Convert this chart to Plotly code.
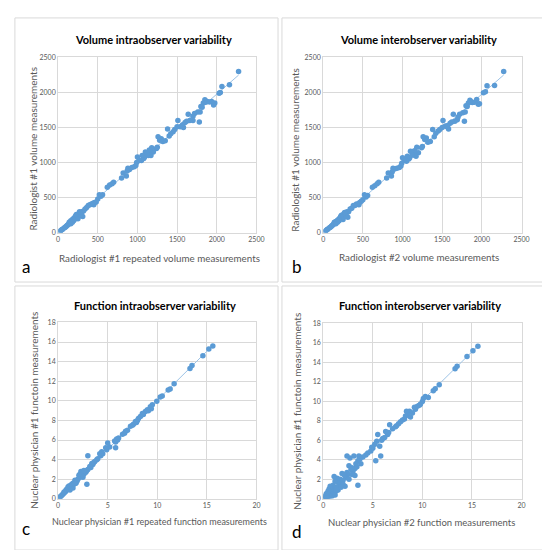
import numpy as np
import plotly.graph_objects as go

# volume, radiologist #1 repeated vs radiologist #1
vol_intra_x = [2275, 2160, 2065, 2045, 2030, 1975, 1960, 1935, 1910, 1880, 1860, 1850, 1830, 1815, 1800,
               1790, 1780, 1760, 1720, 1700, 1700, 1660, 1640, 1620, 1600, 1580, 1570, 1560, 1540, 1510,
               1500, 1470, 1450, 1420, 1400, 1380, 1350, 1320, 1300, 1280, 1260, 1250, 1240, 1200, 1180,
               1170, 1160, 1150, 1140, 1120, 1100, 1090, 1080, 1060, 1050, 1020, 1000, 990, 980, 960,
               930, 900, 880, 870, 860, 820, 800, 700, 680, 650, 620, 560, 540, 520, 500,
               480, 460, 450, 440, 420, 400, 380, 360, 340, 320, 300, 310, 290, 280, 270,
               260, 250, 240, 230, 220, 210, 200, 190, 180, 170, 160, 150, 140, 130, 120,
               110, 100, 90, 80, 60, 50, 40, 30, 250, 230, 200, 180, 160, 290, 270]
vol_intra_y = [2300, 2110, 2085, 2000, 1990, 1850, 1820, 1870, 1865, 1870, 1860, 1895, 1850, 1790, 1800,
               1720, 1580, 1720, 1700, 1660, 1600, 1600, 1690, 1590, 1570, 1500, 1540, 1520, 1510, 1600,
               1510, 1470, 1440, 1410, 1380, 1480, 1310, 1300, 1340, 1320, 1370, 1220, 1200, 1150, 1210,
               1100, 1140, 1180, 1100, 1120, 1150, 1080, 1060, 1100, 1030, 1030, 1080, 1000, 960, 940,
               930, 900, 920, 880, 810, 850, 780, 720, 700, 680, 650, 540, 520, 540, 480,
               440, 430, 400, 420, 410, 400, 390, 360, 340, 310, 300, 230, 280, 260, 240,
               270, 230, 250, 210, 240, 200, 210, 170, 190, 160, 170, 140, 150, 120, 110,
               100, 90, 80, 70, 55, 45, 35, 25, 200, 260, 180, 150, 130, 250, 300]

# volume, radiologist #2 vs radiologist #1
vol_inter_x = [2275, 2160, 2065, 2045, 2020, 1970, 1955, 1935, 1905, 1880, 1860, 1850, 1830, 1815, 1800,
               1790, 1780, 1760, 1720, 1700, 1690, 1660, 1640, 1620, 1600, 1580, 1570, 1560, 1540, 1510,
               1500, 1470, 1450, 1420, 1400, 1380, 1350, 1320, 1300, 1280, 1260, 1250, 1240, 1200, 1180,
               1170, 1160, 1150, 1140, 1120, 1100, 1090, 1080, 1060, 1050, 1020, 1000, 990, 980, 960,
               930, 900, 880, 870, 860, 820, 800, 700, 680, 650, 620, 560, 540, 520, 500,
               480, 460, 450, 440, 420, 400, 380, 360, 340, 320, 300, 310, 290, 280, 270,
               260, 250, 240, 230, 220, 210, 200, 190, 180, 170, 160, 150, 140, 130, 120,
               110, 100, 90, 80, 60, 50, 40, 30, 250, 230, 200, 180, 160, 290, 270]
vol_inter_y = [2300, 2100, 2095, 2010, 1995, 1840, 1830, 1900, 1860, 1855, 1870, 1890, 1850, 1800, 1810,
               1720, 1590, 1710, 1690, 1650, 1610, 1590, 1690, 1580, 1560, 1480, 1530, 1510, 1520, 1600,
               1500, 1470, 1450, 1420, 1370, 1470, 1300, 1290, 1350, 1330, 1370, 1230, 1210, 1140, 1220,
               1090, 1130, 1170, 1110, 1110, 1160, 1070, 1050, 1090, 1020, 1040, 1070, 990, 950, 930,
               920, 910, 920, 870, 810, 850, 780, 720, 700, 670, 650, 530, 510, 540, 470,
               450, 430, 400, 410, 410, 390, 390, 350, 340, 300, 300, 220, 280, 250, 240,
               270, 220, 240, 210, 230, 200, 200, 170, 180, 160, 160, 140, 150, 120, 110,
               100, 90, 80, 70, 55, 45, 35, 25, 190, 250, 170, 150, 130, 240, 290]

# function, nuclear physician #1 repeated vs #1
fun_intra_x = [15.6, 15.2, 14.6, 13.5, 13.3, 11.7, 11.3, 11.1, 10.5, 10.3, 9.95, 9.5, 9.4, 9.3, 9.1,
               9.0, 8.8, 8.6, 8.5, 8.3, 8.1, 8.0, 7.9, 7.8, 7.6, 7.5, 7.3, 7.0, 6.8, 6.7,
               6.5, 6.1, 6.0, 5.9, 5.8, 5.7, 5.8, 5.2, 5.0, 4.9, 4.8, 4.5, 4.4, 4.3, 4.2,
               4.0, 3.9, 3.7, 3.6, 3.5, 3.4, 3.3, 3.2, 3.0, 3.0, 2.9, 2.9, 2.8, 2.7, 2.6,
               2.5, 2.4, 2.3, 2.2, 2.2, 2.1, 2.0, 1.9, 1.8, 1.7, 1.6, 1.5, 1.4, 1.3, 1.2,
               1.1, 1.0, 0.9, 0.8, 0.7, 0.6, 0.5, 0.4, 0.3, 0.2, 0.15, 1.5, 1.2, 2.5, 1.0,
               0.8, 0.6, 1.4, 1.7, 2.6]
fun_intra_y = [15.6, 15.3, 14.6, 13.6, 13.3, 11.75, 11.2, 11.1, 10.5, 10.4, 9.95, 9.6, 9.2, 9.4, 9.0,
               9.1, 8.9, 8.6, 8.7, 8.4, 8.2, 8.0, 7.8, 7.9, 7.6, 7.5, 7.4, 7.0, 6.9, 6.7,
               6.6, 6.2, 6.0, 6.1, 5.8, 5.9, 5.2, 5.3, 5.7, 5.0, 5.2, 4.6, 4.8, 4.4, 4.6,
               4.1, 4.0, 3.8, 3.7, 3.5, 3.6, 3.2, 3.3, 4.4, 3.0, 2.9, 1.5, 2.7, 2.8, 2.5,
               2.6, 2.3, 2.8, 2.5, 2.2, 2.4, 2.0, 1.8, 1.6, 1.9, 1.5, 1.6, 1.2, 1.4, 1.1,
               1.3, 1.0, 1.0, 0.8, 0.7, 0.6, 0.5, 0.4, 0.3, 0.2, 0.1, 1.1, 0.9, 2.2, 1.2,
               0.9, 0.7, 1.5, 1.6, 2.9]

# function, nuclear physician #2 vs #1
fun_inter_x = [15.6, 15.1, 14.5, 13.5, 13.3, 11.7, 11.3, 11.1, 10.6, 10.3, 10.1, 10.0, 9.8, 9.7, 9.5,
               9.3, 9.2, 9.0, 8.7, 8.4, 8.5, 8.8, 8.3, 8.2, 8.0, 7.8, 7.6, 7.4, 7.3, 7.0,
               6.7, 6.6, 6.5, 6.3, 6.2, 6.0, 5.9, 5.5, 5.7, 5.4, 5.2, 5.0, 4.9, 4.8, 5.8,
               5.3, 4.5, 4.3, 4.0, 3.8, 3.7, 3.6, 3.5, 3.4, 3.3, 3.2, 3.1, 3.0, 2.9, 2.7,
               2.6, 2.4, 2.8, 2.5, 2.4, 2.3, 2.2, 2.0, 2.1, 1.9, 1.8, 1.7, 1.6, 1.5, 1.4,
               1.3, 1.2, 1.1, 1.1, 1.0, 0.9, 0.8, 0.7, 0.6, 0.5, 0.5, 0.4, 0.3, 0.3, 0.2,
               0.1, 0.2, 0.6, 1.0, 1.3, 1.5, 2.2, 3.5, 2.0, 0.9, 0.4, 1.2, 0.7, 1.4, 1.8,
               2.6, 2.9, 3.2]
fun_inter_y = [15.65, 15.2, 14.6, 13.6, 13.35, 11.7, 11.3, 11.1, 10.4, 10.5, 10.3, 10.0, 9.7, 9.6, 9.5,
               9.2, 9.4, 8.8, 9.0, 9.0, 8.6, 8.4, 8.5, 8.2, 8.1, 7.9, 7.7, 7.5, 7.4, 7.2,
               7.6, 6.8, 6.6, 6.9, 6.3, 6.2, 6.0, 6.6, 5.4, 5.9, 5.6, 5.2, 5.3, 4.9, 4.4,
               3.9, 4.7, 4.5, 4.3, 3.6, 4.1, 4.4, 3.9, 3.3, 3.6, 3.1, 4.4, 2.8, 3.2, 4.2,
               3.4, 4.4, 3.0, 2.5, 2.7, 2.2, 2.4, 1.9, 2.5, 2.6, 1.6, 2.0, 1.4, 1.7, 2.1,
               1.2, 1.8, 2.3, 1.0, 1.4, 0.8, 1.2, 0.5, 1.0, 0.3, 0.8, 0.6, 0.2, 0.5, 0.3,
               0.1, 0.0, 0.2, 0.5, 0.8, 0.9, 1.3, 1.4, 1.5, 0.3, 0.1, 0.4, 1.3, 1.1, 1.2,
               2.0, 2.5, 2.4]

W = 550
BLUE = "#5b9bd5"
GRID = "#d9d9d9"
TXT = "#595959"
FONT = "Lato"

def px(v):
    return v / W

def py(v):
    return 1 - v / W

# panel: data, plot box in pixels (left, right, top, bottom), axes ranges, texts
panels = [
    dict(x=vol_intra_x, y=vol_intra_y, box=(49, 251, 45, 223), xr=[0, 2500], xd=500, yr=[0, 2500], yd=500,
         title="Volume intraobserver variability", tpos=(146, 27),
         xt="Radiologist #1 repeated volume measurements", xtpos=(152, 249), xts=9.8,
         yt="Radiologist #1 volume measurements", ytpos=(23, 138),
         letter="a", lpos=(16, 257), frame=(5, 273, 5, 273)),
    dict(x=vol_inter_x, y=vol_inter_y, box=(319, 521, 45, 223), xr=[0, 2500], xd=500, yr=[0, 2500], yd=500,
         title="Volume interobserver variability", tpos=(416, 27),
         xt="Radiologist #2 volume measurements", xtpos=(417, 248), xts=9.8,
         yt="Radiologist #1 volume measurements", ytpos=(290, 139),
         letter="b", lpos=(292, 257), frame=(277, 545, 5, 273)),
    dict(x=fun_intra_x, y=fun_intra_y, box=(49, 251, 314, 493), xr=[0, 20], xd=5, yr=[0, 18], yd=2,
         title="Function intraobserver variability", tpos=(148, 297),
         xt="Nuclear physician #1 repeated function measurements", xtpos=(152, 516), xts=9,
         yt="Nuclear physician #1 functoin measurements", ytpos=(25, 403),
         letter="c", lpos=(16, 523), frame=(5, 273, 277, 545)),
    dict(x=fun_inter_x, y=fun_inter_y, box=(319, 521, 315, 493), xr=[0, 20], xd=5, yr=[0, 18], yd=2,
         title="Function interobserver variability", tpos=(418, 297),
         xt="Nuclear physician #2 function measurements", xtpos=(419, 517), xts=9.5,
         yt="Nuclear physician #1 functoin measurements", ytpos=(292, 404),
         letter="d", lpos=(292, 526), frame=(277, 545, 277, 545)),
]

fig = go.Figure()
annotations = []
shapes = []

for i, p in enumerate(panels):
    n = "" if i == 0 else str(i + 1)
    xa, ya = "x" + n, "y" + n
    l, r, t, b = p["box"]

    # linear trendline fitted to the points
    k, c = np.polyfit(p["x"], p["y"], 1)
    tx = np.array([min(p["x"]), max(p["x"])])
    fig.add_trace(go.Scatter(x=tx, y=k * tx + c, mode="lines", xaxis=xa, yaxis=ya,
                             line=dict(color="#9dc3e6", width=1), hoverinfo="skip", showlegend=False))
    fig.add_trace(go.Scatter(x=p["x"], y=p["y"], mode="markers", xaxis=xa, yaxis=ya,
                             marker=dict(color=BLUE, size=5.5), showlegend=False))

    axis_common = dict(showgrid=True, gridcolor=GRID, gridwidth=1, zeroline=False,
                       showline=True, linecolor=GRID, mirror=True, ticks="",
                       tickfont=dict(family=FONT, size=7, color=TXT), fixedrange=True)
    fig.update_layout({
        "xaxis" + n: dict(domain=[px(l), px(r)], range=p["xr"], dtick=p["xd"], anchor=ya, **axis_common),
        "yaxis" + n: dict(domain=[py(b), py(t)], range=p["yr"], dtick=p["yd"], anchor=xa, **axis_common),
    })

    annotations += [
        dict(text="<b>%s</b>" % p["title"], x=px(p["tpos"][0]), y=py(p["tpos"][1]),
             font=dict(family=FONT, size=11, color="black")),
        dict(text=p["xt"], x=px(p["xtpos"][0]), y=py(p["xtpos"][1]),
             font=dict(family=FONT, size=p["xts"], color=TXT)),
        dict(text=p["yt"], x=px(p["ytpos"][0]), y=py(p["ytpos"][1]), textangle=-90,
             font=dict(family=FONT, size=10, color=TXT)),
        dict(text=p["letter"], x=px(p["lpos"][0]), y=py(p["lpos"][1]),
             font=dict(family=FONT, size=17, color="black")),
    ]
    fl, fr, ft, fb = p["frame"]
    shapes.append(dict(type="rect", xref="paper", yref="paper", x0=px(fl), x1=px(fr), y0=py(fb), y1=py(ft),
                       line=dict(color=GRID, width=1)))

for a in annotations:
    a.update(xref="paper", yref="paper", showarrow=False, xanchor="center", yanchor="middle")

fig.update_layout(width=W, height=W, margin=dict(l=0, r=0, t=0, b=0),
                  paper_bgcolor="white", plot_bgcolor="white",
                  annotations=annotations, shapes=shapes)

fig.write_html("out.html")
